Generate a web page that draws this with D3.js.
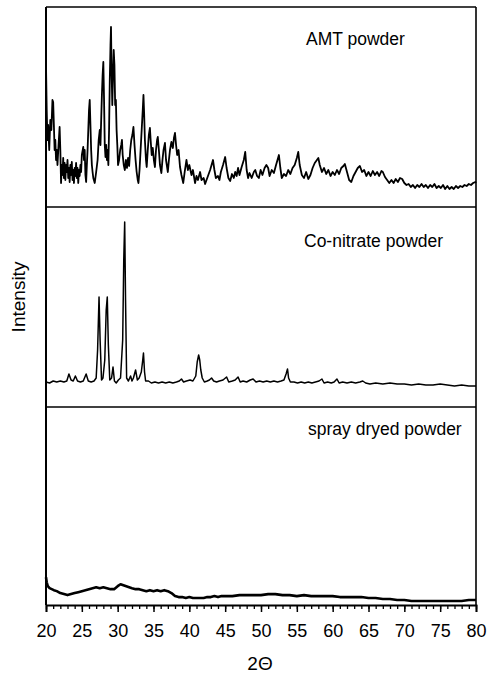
<!DOCTYPE html>
<html><head><meta charset="utf-8">
<script src="https://cdn.jsdelivr.net/npm/d3@7"></script>
<style>body{margin:0;background:#fff}svg{display:block}text{font-family:"Liberation Sans",Arial,sans-serif;fill:#000}</style>
</head><body><svg id="c" width="487" height="679"></svg>
<script>
const xTicks=[20,25,30,35,40,45,50,55,60,65,70,75,80];
const panelLabels=["AMT powder","Co-nitrate powder","spray dryed powder"];
const amtPowder=[[20.0,710],[20.1,485],[20.2,335],[20.3,410],[20.45,285],[20.6,435],[20.75,385],[20.9,535],[21.0,525],[21.1,410],[21.2,285],[21.3,335],[21.4,235],[21.5,285],[21.6,210],[21.75,310],[21.9,400],[22.0,285],[22.1,120],[22.2,210],[22.3,160],[22.4,245],[22.5,145],[22.6,220],[22.7,135],[22.8,210],[22.9,175],[23.0,235],[23.1,145],[23.2,195],[23.3,125],[23.4,210],[23.5,160],[23.6,225],[23.7,135],[23.8,185],[23.9,120],[24.0,195],[24.1,155],[24.2,220],[24.3,145],[24.4,195],[24.5,120],[24.6,185],[24.7,155],[24.8,210],[24.9,175],[25.0,260],[25.2,300],[25.3,235],[25.4,285],[25.5,160],[25.6,125],[25.7,210],[25.8,285],[25.9,385],[26.0,485],[26.1,535],[26.2,410],[26.3,285],[26.4,210],[26.5,175],[26.6,145],[26.8,120],[27.0,175],[27.2,235],[27.35,335],[27.5,385],[27.6,310],[27.7,435],[27.8,560],[27.9,660],[28.0,725],[28.1,535],[28.2,310],[28.3,250],[28.4,310],[28.5,235],[28.6,285],[28.7,210],[28.8,385],[28.9,635],[29.0,810],[29.07,900],[29.15,685],[29.25,510],[29.35,660],[29.45,785],[29.55,710],[29.65,510],[29.75,535],[29.85,385],[29.95,310],[30.05,210],[30.2,235],[30.35,285],[30.5,310],[30.6,335],[30.7,260],[30.85,210],[31.0,185],[31.15,235],[31.3,195],[31.45,245],[31.6,205],[31.75,285],[31.9,335],[32.05,360],[32.2,400],[32.35,310],[32.5,235],[32.65,175],[32.8,135],[32.9,120],[33.05,185],[33.2,285],[33.35,385],[33.5,485],[33.6,560],[33.7,460],[33.8,335],[33.95,235],[34.05,200],[34.2,285],[34.35,360],[34.5,395],[34.6,335],[34.75,260],[34.9,295],[35.05,235],[35.2,200],[35.35,285],[35.5,335],[35.6,350],[35.75,285],[35.9,210],[36.1,170],[36.25,235],[36.4,285],[36.6,320],[36.75,235],[37.0,175],[37.15,235],[37.3,285],[37.5,325],[37.7,295],[37.85,345],[38.0,370],[38.15,310],[38.3,260],[38.5,285],[38.7,200],[38.9,160],[39.15,120],[39.35,175],[39.6,235],[39.8,185],[40.0,210],[40.3,160],[40.5,185],[40.8,120],[41.0,155],[41.2,135],[41.5,175],[41.7,135],[42.0,145],[42.2,115],[42.4,135],[42.6,155],[42.9,185],[43.1,210],[43.3,235],[43.5,185],[43.7,145],[44.0,155],[44.2,135],[44.4,175],[44.7,210],[45.0,250],[45.2,195],[45.45,145],[45.7,130],[45.95,165],[46.2,145],[46.4,175],[46.6,155],[46.8,195],[47.0,160],[47.3,200],[47.6,235],[47.8,275],[48.0,185],[48.2,145],[48.4,170],[48.7,145],[49.0,175],[49.2,185],[49.45,155],[49.7,145],[49.95,185],[50.2,160],[50.5,195],[50.75,210],[51.0,195],[51.2,155],[51.5,185],[51.8,170],[52.1,210],[52.3,235],[52.5,260],[52.7,195],[52.9,145],[53.2,165],[53.5,155],[53.8,185],[54.1,165],[54.4,195],[54.7,210],[55.0,245],[55.2,275],[55.4,210],[55.7,160],[56.0,145],[56.3,175],[56.6,140],[56.9,160],[57.2,195],[57.5,220],[57.8,235],[58.0,245],[58.2,210],[58.5,175],[58.8,195],[59.1,165],[59.4,185],[59.7,155],[60.0,175],[60.3,160],[60.6,185],[60.9,165],[61.2,195],[61.5,205],[61.7,215],[62.0,175],[62.3,135],[62.6,125],[62.9,155],[63.2,175],[63.5,195],[63.8,205],[64.1,175],[64.4,185],[64.7,155],[65.0,175],[65.3,155],[65.6,180],[65.9,160],[66.2,175],[66.5,155],[66.8,180],[67.0,175],[67.3,150],[67.6,135],[67.9,120],[68.2,135],[68.5,120],[68.8,140],[69.1,125],[69.4,145],[69.7,140],[70.0,120],[70.3,110],[70.6,115],[70.9,100],[71.2,110],[71.5,95],[71.8,110],[72.1,100],[72.4,115],[72.7,100],[73.0,110],[73.3,95],[73.6,110],[73.9,100],[74.2,115],[74.5,95],[74.8,105],[75.1,95],[75.4,110],[75.7,90],[76.0,105],[76.3,90],[76.6,100],[76.9,90],[77.2,105],[77.5,95],[77.8,105],[78.1,100],[78.4,110],[78.7,105],[79.0,115],[79.3,110],[79.6,120],[79.9,125],[80.0,120]];
const coNitrate=[[20.0,125],[20.5,120],[21.0,130],[21.5,125],[22.0,130],[22.5,125],[22.9,130],[23.2,165],[23.5,135],[23.8,130],[24.1,155],[24.4,130],[24.8,125],[25.2,130],[25.6,165],[25.9,130],[26.3,125],[26.7,130],[27.0,145],[27.2,285],[27.4,550],[27.55,335],[27.75,135],[27.95,145],[28.2,235],[28.4,485],[28.55,550],[28.7,310],[28.9,135],[29.15,145],[29.35,200],[29.55,130],[29.8,120],[30.1,135],[30.4,145],[30.7,335],[30.85,735],[30.98,925],[31.1,535],[31.25,145],[31.5,130],[31.8,155],[32.0,130],[32.2,145],[32.5,185],[32.75,135],[33.0,145],[33.3,175],[33.5,235],[33.6,270],[33.75,175],[33.9,130],[34.3,130],[34.7,120],[35.2,125],[35.7,120],[36.2,125],[36.7,120],[37.2,125],[37.7,120],[38.2,125],[38.6,130],[38.9,140],[39.2,125],[39.6,130],[40.1,135],[40.5,130],[40.9,155],[41.1,225],[41.3,260],[41.45,235],[41.6,185],[41.8,145],[42.1,125],[42.5,130],[42.8,135],[43.1,145],[43.4,130],[43.8,125],[44.2,130],[44.7,135],[45.2,150],[45.5,125],[46.0,130],[46.4,135],[46.8,150],[47.1,125],[47.5,130],[48.0,125],[48.5,135],[48.9,140],[49.3,125],[49.8,130],[50.3,125],[50.8,130],[51.3,125],[51.8,130],[52.3,125],[52.8,130],[53.2,135],[53.5,165],[53.7,190],[53.85,145],[54.1,125],[54.6,125],[55.1,120],[55.6,125],[56.1,120],[56.6,125],[57.1,120],[57.6,125],[58.1,130],[58.5,140],[58.8,120],[59.3,125],[59.8,120],[60.2,125],[60.6,140],[60.9,120],[61.4,125],[62.0,120],[62.6,125],[63.2,120],[63.8,125],[64.2,130],[64.6,120],[65.2,115],[66.0,120],[67.0,115],[68.0,120],[69.0,115],[70.0,115],[71.0,110],[72.0,115],[73.0,110],[74.0,110],[75.0,115],[76.0,110],[77.0,105],[78.0,110],[79.0,105],[80.0,105]];
const sprayDried=[[20.0,140],[20.1,115],[20.25,95],[20.5,85],[20.8,80],[21.1,75],[21.5,70],[22.0,60],[22.5,55],[23.0,50],[23.5,55],[24.0,60],[24.5,65],[25.0,70],[25.5,75],[26.0,80],[26.5,85],[27.0,90],[27.5,85],[28.0,90],[28.5,85],[29.0,80],[29.5,80],[30.0,95],[30.4,105],[30.8,100],[31.2,95],[31.6,90],[32.0,85],[32.5,80],[33.0,80],[33.5,75],[34.0,70],[34.5,75],[35.0,70],[35.5,75],[36.0,70],[36.5,75],[37.0,70],[37.5,60],[38.0,45],[38.5,40],[39.0,40],[39.5,35],[40.0,40],[40.5,35],[41.0,35],[41.5,35],[42.0,35],[42.5,40],[43.0,40],[43.5,45],[44.0,40],[44.5,45],[45.0,45],[46.0,45],[47.0,50],[48.0,50],[49.0,50],[50.0,50],[51.0,55],[52.0,55],[53.0,50],[54.0,50],[55.0,45],[56.0,50],[57.0,45],[58.0,45],[59.0,45],[60.0,45],[61.0,40],[62.0,40],[63.0,40],[64.0,40],[65.0,35],[66.0,35],[67.0,30],[68.0,30],[69.0,25],[70.0,25],[71.0,20],[72.0,20],[73.0,20],[74.0,20],[75.0,20],[76.0,20],[77.0,20],[78.0,20],[79.0,25],[80.0,25]];

const svg=d3.select("#c");
const L=46,R=476;
const x=d3.scaleLinear().domain([20,80]).range([L,R]);
const panels=[{top:7,bot:207,data:amtPowder,w:1.8,lx:306,ly:45},
              {top:207,bot:407,data:coNitrate,w:1.5,lx:304,ly:247},
              {top:407,bot:605,data:sprayDried,w:2.6,lx:308,ly:435}];
panels.forEach((p,i)=>{
  const y=d3.scaleLinear().domain([0,1000]).range([p.bot,p.top]);
  const line=d3.line().x(d=>x(d[0])).y(d=>y(d[1]));
  svg.append("path").datum(p.data).attr("d",line).attr("fill","none")
     .attr("stroke","#000").attr("stroke-width",p.w).attr("stroke-linejoin","round");
  svg.append("text").attr("x",p.lx).attr("y",p.ly).attr("font-size",17.5).text(panelLabels[i]);
  svg.append("line").attr("x1",L).attr("x2",R).attr("y1",p.top).attr("y2",p.top)
     .attr("stroke","#000").attr("stroke-width",1.6);
});
// frame
svg.append("line").attr("x1",L).attr("x2",L).attr("y1",7).attr("y2",605).attr("stroke","#000").attr("stroke-width",2);
svg.append("line").attr("x1",R).attr("x2",R).attr("y1",7).attr("y2",605).attr("stroke","#000").attr("stroke-width",1.6);
// x axis
const ax=svg.append("g").attr("transform","translate(0,605)");
ax.call(d3.axisBottom(x).tickValues(d3.range(20,81,1)).tickSize(4).tickFormat(""));
ax.call(g=>g.selectAll(".tick line").attr("stroke-width",1.3));
const ax2=svg.append("g").attr("transform","translate(0,605)");
ax2.call(d3.axisBottom(x).tickValues(xTicks).tickSize(7).tickPadding(12).tickFormat(d3.format("d")));
ax2.selectAll(".domain").attr("stroke-width",1.8);
ax2.selectAll(".tick line").attr("stroke-width",1.5);
ax2.selectAll(".tick text").attr("font-size",18).attr("font-family","Liberation Sans, Arial, sans-serif").attr("fill","#000");
svg.append("text").attr("x",260).attr("y",670).attr("text-anchor","middle").attr("font-size",19).text("2Θ");
svg.append("text").attr("transform","translate(25,297) rotate(-90)").attr("text-anchor","middle").attr("font-size",19).text("Intensity");
</script></body></html>
